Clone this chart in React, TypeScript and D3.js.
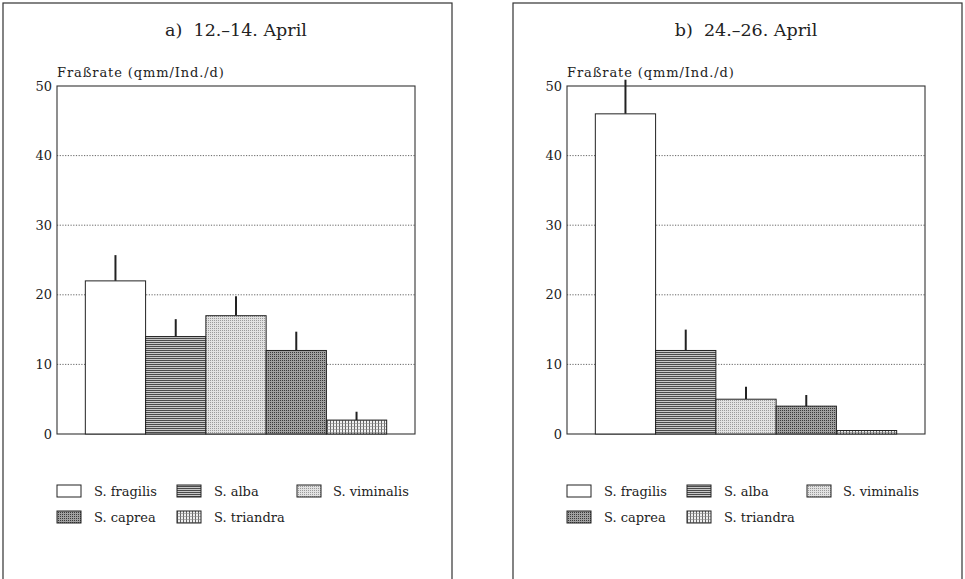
import React from "react";
import * as d3 from "d3";

const species = ["S. fragilis", "S. alba", "S. viminalis", "S. caprea", "S. triandra"];
const panelTitles = ["a)  12.\u201314. April", "b)  24.\u201326. April"];
const meansA = [22, 14, 17, 12, 2];
const errTopA = [25.7, 16.5, 19.8, 14.7, 3.2];
const meansB = [46, 12, 5, 4, 0.5];
const errTopB = [50.9, 15, 6.8, 5.6, 0.5];
const yTicks = [0, 10, 20, 30, 40, 50];
const yLabel = "Fraßrate (qmm/Ind./d)";

const patternIds = ["p-fragilis", "p-alba", "p-viminalis", "p-caprea", "p-triandra"];
const FONT = "'DejaVu Serif', 'Liberation Serif', serif";

function Patterns() {
  return (
    <defs>
      <pattern id="p-fragilis" width="4" height="4" patternUnits="userSpaceOnUse">
        <rect width="4" height="4" fill="#fff" />
      </pattern>
      <pattern id="p-alba" width="2" height="2" patternUnits="userSpaceOnUse">
        <rect width="2" height="2" fill="#c8c8c8" />
        <rect y="0" width="2" height="1" fill="#4a4a4a" />
      </pattern>
      <pattern id="p-viminalis" width="2" height="2" patternUnits="userSpaceOnUse">
        <rect width="2" height="2" fill="#e2e2e2" />
        <rect width="1" height="1" fill="#9a9a9a" />
      </pattern>
      <pattern id="p-caprea" width="2" height="2" patternUnits="userSpaceOnUse">
        <rect width="2" height="2" fill="#a0a0a0" />
        <rect width="1" height="1" fill="#3a3a3a" />
      </pattern>
      <pattern id="p-triandra" width="3" height="3" patternUnits="userSpaceOnUse">
        <rect width="3" height="3" fill="#f0f0f0" />
        <rect x="0" width="1" height="3" fill="#666" />
        <rect y="0" width="3" height="0.6" fill="#888" />
      </pattern>
    </defs>
  );
}

function Panel({ ox, title, means, errTop }: { ox: number; title: string; means: number[]; errTop: number[] }) {
  const left = ox + 54;
  const right = ox + 412;
  const top = 86;
  const bottom = 434;
  const x = d3.scaleBand<string>().domain(species).range([left, right]).paddingInner(0).paddingOuter(0.47);
  const y = d3.scaleLinear().domain([0, 50]).range([bottom, top]);
  const legendCols = [0, 120, 240];
  return (
    <g>
      <rect x={ox} y={3} width={449} height={600} fill="none" stroke="#333" strokeWidth={1.2} />
      <text x={ox + 233} y={36} textAnchor="middle" fontFamily={FONT} fontSize={17.5} fill="#222" style={{ whiteSpace: "pre" }}>
        {title}
      </text>
      <text x={left} y={77} fontFamily={FONT} fontSize={13} letterSpacing={0.9} fill="#222">
        {yLabel}
      </text>
      {yTicks.filter((t) => t > 0 && t < 50).map((t) => (
        <line key={t} x1={left} x2={right} y1={y(t)} y2={y(t)} stroke="#555" strokeWidth={0.9} strokeDasharray="1.2,1.5" />
      ))}
      {yTicks.map((t) => (
        <text key={"l" + t} x={left - 5} y={y(t) + 4.5} textAnchor="end" fontFamily={FONT} fontSize={13} fill="#222">
          {t}
        </text>
      ))}
      <rect x={left} y={top} width={right - left} height={bottom - top} fill="none" stroke="#333" strokeWidth={1.1} />
      {species.map((s, i) => (
        <g key={s}>
          <line x1={x(s)! + x.bandwidth() / 2} x2={x(s)! + x.bandwidth() / 2} y1={y(means[i])} y2={y(errTop[i])} stroke="#222" strokeWidth={2} />
          <rect x={x(s)!} y={y(means[i])} width={x.bandwidth()} height={bottom - y(means[i])} fill={`url(#${patternIds[i]})`} stroke="#222" strokeWidth={1} />
        </g>
      ))}
      {species.map((s, i) => {
        const row = i < 3 ? 0 : 1;
        const col = i < 3 ? i : i - 3;
        const bx = left + legendCols[col];
        const by = 485 + row * 26;
        return (
          <g key={"lg" + s}>
            <rect x={bx} y={by} width={24} height={12} fill={`url(#${patternIds[i]})`} stroke="#222" strokeWidth={1} />
            <text x={bx + 37 - (col === 2 ? 1 : 0)} y={by + 11} fontFamily={FONT} fontSize={13} fill="#222">
              {s}
            </text>
          </g>
        );
      })}
    </g>
  );
}

export default function App() {
  return (
    <svg width={965} height={579} style={{ position: "absolute", left: 0, top: 0, background: "#fff" }}>
      <Patterns />
      <rect width={965} height={579} fill="#fff" />
      <Panel ox={3} title={panelTitles[0]} means={meansA} errTop={errTopA} />
      <Panel ox={513} title={panelTitles[1]} means={meansB} errTop={errTopB} />
    </svg>
  );
}
